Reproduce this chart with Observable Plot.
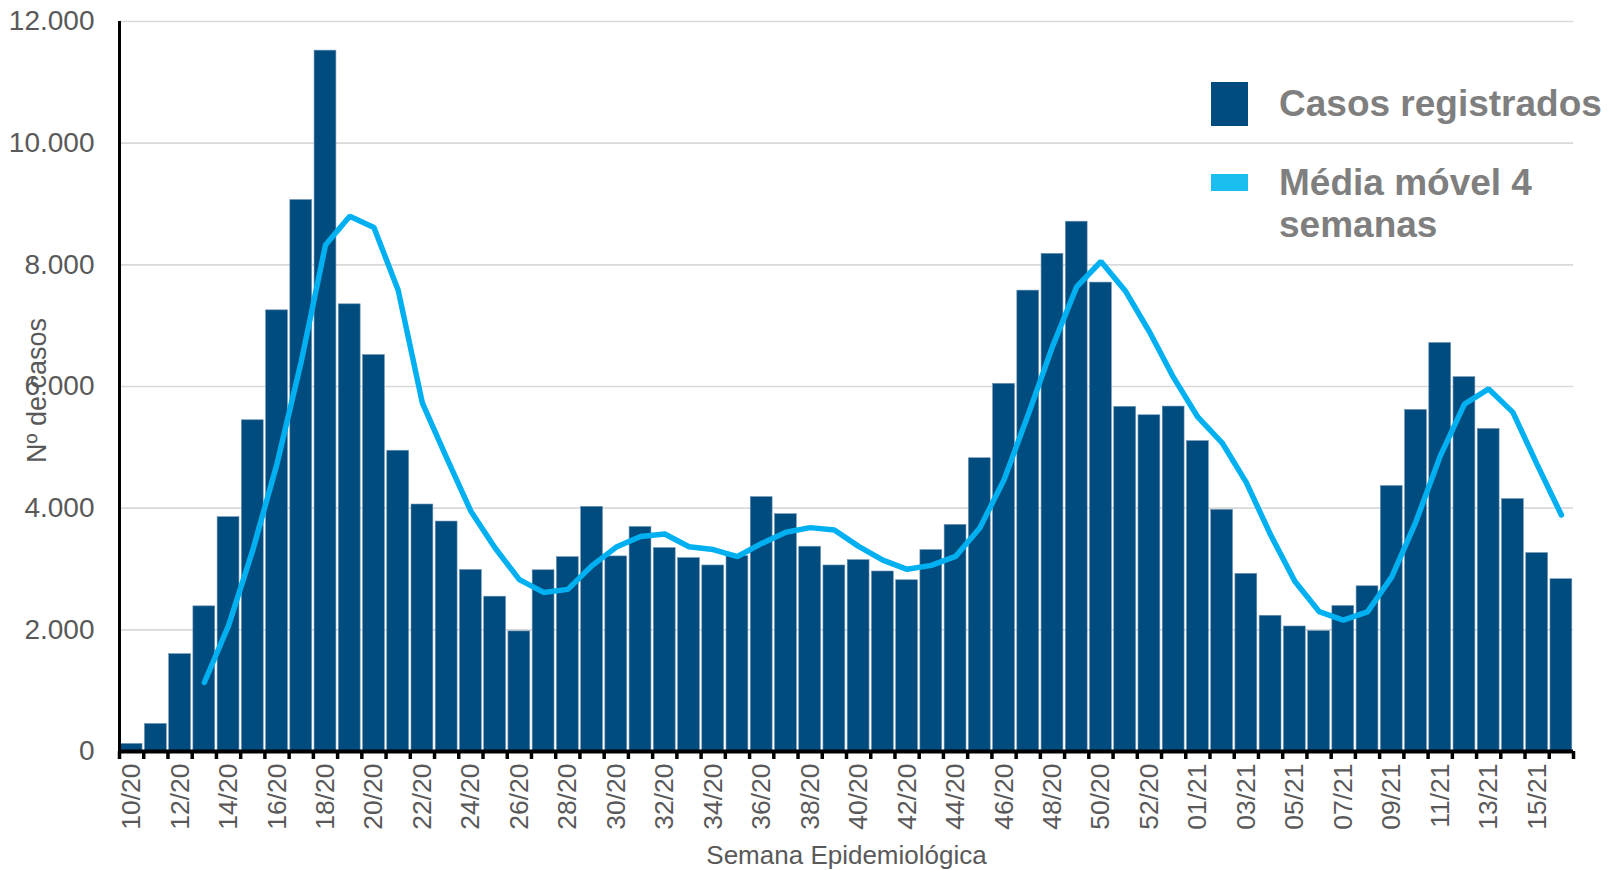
<!DOCTYPE html>
<html>
<head>
<meta charset="utf-8">
<script src="https://cdn.jsdelivr.net/npm/d3@7"></script>
<script src="https://cdn.jsdelivr.net/npm/@observablehq/plot@0.6"></script>
<style>
  html, body { margin: 0; padding: 0; background: #ffffff; }
  #chart { width: 1609px; height: 870px; overflow: hidden; }
</style>
</head>
<body>
<div id="chart"></div>
<script>
// Epidemiological weeks (categories)
const weeks = [
  "10/20","11/20","12/20","13/20","14/20","15/20","16/20","17/20","18/20","19/20",
  "20/20","21/20","22/20","23/20","24/20","25/20","26/20","27/20","28/20","29/20",
  "30/20","31/20","32/20","33/20","34/20","35/20","36/20","37/20","38/20","39/20",
  "40/20","41/20","42/20","43/20","44/20","45/20","46/20","47/20","48/20","49/20",
  "50/20","51/20","52/20","53/20",
  "01/21","02/21","03/21","04/21","05/21","06/21","07/21","08/21","09/21","10/21",
  "11/21","12/21","13/21","14/21","15/21","16/21"
];

// Casos registrados (weekly cases)
const cases = [
  124, 453, 1600, 2386, 3852, 5445, 7252, 9065, 11521, 7351,
  6517, 4944, 4060, 3780, 2984, 2545, 1974, 2979, 3195, 4022,
  3207, 3691, 3344, 3179, 3058, 3212, 4182, 3901, 3366, 3058,
  3146, 2959, 2815, 3311, 3725, 4821, 6044, 7576, 8181, 8709,
  7708, 5665, 5527, 5670,
  5102, 3972, 2920, 2231, 2055, 1978, 2391, 2716, 4364, 5615,
  6715, 6154, 5302, 4149, 3262, 2832
];

// Média móvel 4 semanas
const movingAvg = [
  null, null, null, 1135, 2070, 3310, 4730, 6410, 8325, 8800,
  8615, 7582, 5725, 4825, 3950, 3345, 2825, 2615, 2665, 3055,
  3360, 3535, 3575, 3365, 3320, 3205, 3420, 3605, 3680, 3640,
  3372, 3145, 2995, 3060, 3207, 3675, 4465, 5540, 6655, 7640,
  8055, 7575, 6900, 6145,
  5495, 5075, 4420, 3562, 2800, 2300, 2160, 2295, 2870, 3780,
  4855, 5710, 5960, 5575, 4715, 3888
];

// Tick values / labels
const yTicks = [0, 2000, 4000, 6000, 8000, 10000, 12000];
const xLabelEvery = 2;
const legendLabels = ["Casos registrados", "Média móvel 4", "semanas"];
const yTitle = "Nº de casos";
const xTitle = "Semana Epidemiológica";

// Table built from the arrays
const rows = weeks.map((w, i) => ({i, week: w, cases: cases[i], ma: movingAvg[i]}));
const lineRows = rows.filter(d => d.ma != null);
const boundaries = d3.range(weeks.length + 1).map(i => i - 0.5);
const labelIdx = d3.range(0, weeks.length, xLabelEvery);

const ptBR = d3.formatLocale({decimal: ",", thousands: ".", grouping: [3], currency: ["R$", ""]});
const fmt = ptBR.format(",d");

const FONT = "'Liberation Sans', Arial, Helvetica, sans-serif";
const BAR = "#004C7F";
const LINE = "#00B0F0";
const GRAY = "#595959";

const chart = Plot.plot({
  width: 1609,
  height: 870,
  marginLeft: 119,
  marginRight: 36,
  marginTop: 21,
  marginBottom: 119,
  style: {fontFamily: FONT, fontSize: "27px", background: "#ffffff", color: GRAY},
  x: {type: "linear", domain: [-0.5, weeks.length - 0.5], axis: null},
  y: {domain: [0, 12000], axis: null},
  marks: [
    Plot.gridY(yTicks.filter(t => t > 0), {stroke: "#d9d9d9", strokeOpacity: 1, strokeWidth: 1.6}),
    Plot.rectY(rows, {
      x1: d => d.i - 0.5, x2: d => d.i + 0.5, y1: 0, y2: "cases",
      insetLeft: 1.2, insetRight: 1.2,
      fill: BAR, stroke: "#6f93b3", strokeWidth: 0.6
    }),
    Plot.line(lineRows, {
      x: "i", y: "ma", stroke: LINE, strokeWidth: 5.5,
      strokeLinecap: "round", strokeLinejoin: "miter"
    }),
    Plot.ruleX([-0.5], {y1: 0, y2: 12000, stroke: "#000", strokeWidth: 3}),
    Plot.ruleX(boundaries, {y1: 0, y2: 0, insetBottom: -8, stroke: "#000", strokeWidth: 3.5}),
    Plot.ruleY([0], {stroke: "#000", strokeWidth: 4}),
    Plot.axisY({
      ticks: yTicks, tickFormat: fmt, tickSize: 0, tickPadding: 25,
      fontSize: 28, fill: GRAY, label: null
    }),
    Plot.axisX({
      ticks: labelIdx, tickFormat: i => weeks[i], tickRotate: -90,
      tickSize: 0, tickPadding: 12, fontSize: 26.5, fill: GRAY, label: null
    }),
    Plot.text([yTitle], {
      frameAnchor: "left", textAnchor: "middle", dx: -82, dy: 4, rotate: -90,
      fontSize: 27, fill: GRAY
    }),
    Plot.text([xTitle], {
      frameAnchor: "bottom", textAnchor: "middle", dy: 112, fontSize: 26, fill: GRAY
    })
  ]
});

document.getElementById("chart").appendChild(chart);

// Legend (inside the plot, top right)
const svg = d3.select(chart);
const lg = svg.append("g").attr("font-family", FONT).attr("font-weight", "bold")
  .attr("font-size", 37).attr("fill", "#7f7f7f").attr("text-anchor", "start");
lg.append("rect").attr("x", 1211).attr("y", 82).attr("width", 37).attr("height", 44).attr("fill", BAR);
lg.append("text").attr("x", 1279).attr("y", 116).text(legendLabels[0]);
lg.append("rect").attr("x", 1211).attr("y", 174).attr("width", 37).attr("height", 17).attr("fill", "#1ABFF0");
lg.append("text").attr("x", 1279).attr("y", 195).text(legendLabels[1]);
lg.append("text").attr("x", 1279).attr("y", 237).text(legendLabels[2]);
</script>
</body>
</html>
